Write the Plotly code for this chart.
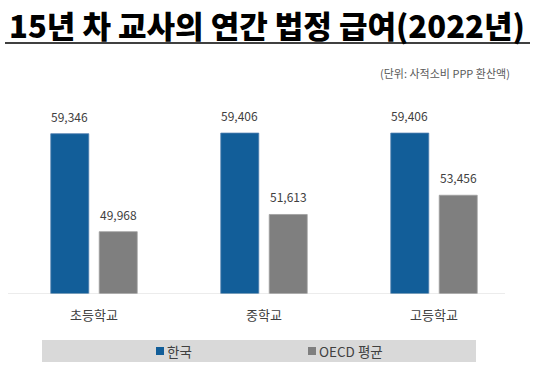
import plotly.graph_objects as go

categories = ["초등학교", "중학교", "고등학교"]
korea = [59346, 59406, 59406]
oecd = [49968, 51613, 53456]
series_names = ["한국", "OECD 평균"]
title_text = "15년 차 교사의 연간 법정 급여(2022년)"
unit_text = "(단위: 사적소비 PPP 환산액)"

W, H = 536, 373
ML, MR, MT, MB = 9, 17, 106, 79
PW = W - ML - MR
PH = H - MT - MB

def px_x(p):
    return (p - ML) / PW

def px_y(p):
    return (H - MB - p) / PH

FONT = "Noto Sans CJK KR, Noto Sans, sans-serif"
BLUE = "#125E99"
GREY = "#7F7F7F"
colors = [BLUE, GREY]

bargap = 0.43
bargroupgap = 0.216

fig = go.Figure()
fig.add_trace(go.Bar(x=categories, y=korea, name=series_names[0], showlegend=False,
                     marker=dict(color=BLUE, line=dict(color="#4F7FB0", width=0.8))))
fig.add_trace(go.Bar(x=categories, y=oecd, name=series_names[1], showlegend=False,
                     marker=dict(color=GREY, line=dict(color="#A0A0A0", width=0.8))))

slot = (1 - bargap) / 2
for i, cat in enumerate(categories):
    for j, vals in enumerate([korea, oecd]):
        xo = i + (-slot / 2 if j == 0 else slot / 2)
        fig.add_annotation(x=xo, y=vals[i], xref="x", yref="y", text=f"{vals[i]:,}",
                           showarrow=False, yanchor="bottom", yshift=7,
                           font=dict(family=FONT, size=12, color="#404040"))

# axis baseline
fig.add_shape(type="line", xref="paper", yref="y", x0=px_x(8), x1=px_x(505),
              y0=44000, y1=44000, line=dict(color="#D9D9D9", width=1.2))
# legend background
fig.add_shape(type="rect", xref="paper", yref="paper", x0=px_x(42), x1=px_x(476),
              y0=px_y(362), y1=px_y(340), fillcolor="#D9D9D9", line=dict(width=0), layer="below")
# legend keys and labels
leg_key_x = [156, 308]
for k, name in enumerate(series_names):
    x0 = leg_key_x[k]
    fig.add_shape(type="rect", xref="paper", yref="paper", x0=px_x(x0), x1=px_x(x0 + 8),
                  y0=px_y(355), y1=px_y(347), fillcolor=colors[k], line=dict(width=0))
    fig.add_annotation(xref="paper", yref="paper", x=px_x(x0 + 9), y=px_y(351), text=name,
                       showarrow=False, xanchor="left", yanchor="middle",
                       font=dict(family=FONT, size=13.5, color="#404040"))
# title underline
fig.add_shape(type="line", xref="paper", yref="paper", x0=px_x(5), x1=px_x(530),
              y0=px_y(43), y1=px_y(43), line=dict(color="black", width=1.5))

fig.add_annotation(xref="paper", yref="paper", x=px_x(7), y=px_y(25), text=title_text,
                   showarrow=False, xanchor="left", yanchor="middle",
                   font=dict(family=FONT, size=31, color="black", weight=900))
fig.add_annotation(xref="paper", yref="paper", x=px_x(512), y=px_y(73), text=unit_text,
                   showarrow=False, xanchor="right", yanchor="middle",
                   font=dict(family=FONT, size=11, color="#595959"))

fig.update_layout(
    width=W, height=H,
    margin=dict(l=ML, r=MR, t=MT, b=MB),
    paper_bgcolor="white", plot_bgcolor="white",
    barmode="group", bargap=bargap, bargroupgap=bargroupgap,
    font=dict(family=FONT, color="#404040"),
    showlegend=False,
    xaxis=dict(range=[-0.5, 2.5], showline=False, showgrid=False, zeroline=False,
               ticks="outside", ticklen=9, tickcolor="rgba(0,0,0,0)",
               tickfont=dict(family=FONT, size=13, color="#404040")),
    yaxis=dict(range=[44000, 62000], visible=False, showgrid=False, zeroline=False),
)

fig.write_html("out.html", config={"displayModeBar": False},
               post_script="document.body.style.margin='0';document.body.style.overflow='hidden';")
